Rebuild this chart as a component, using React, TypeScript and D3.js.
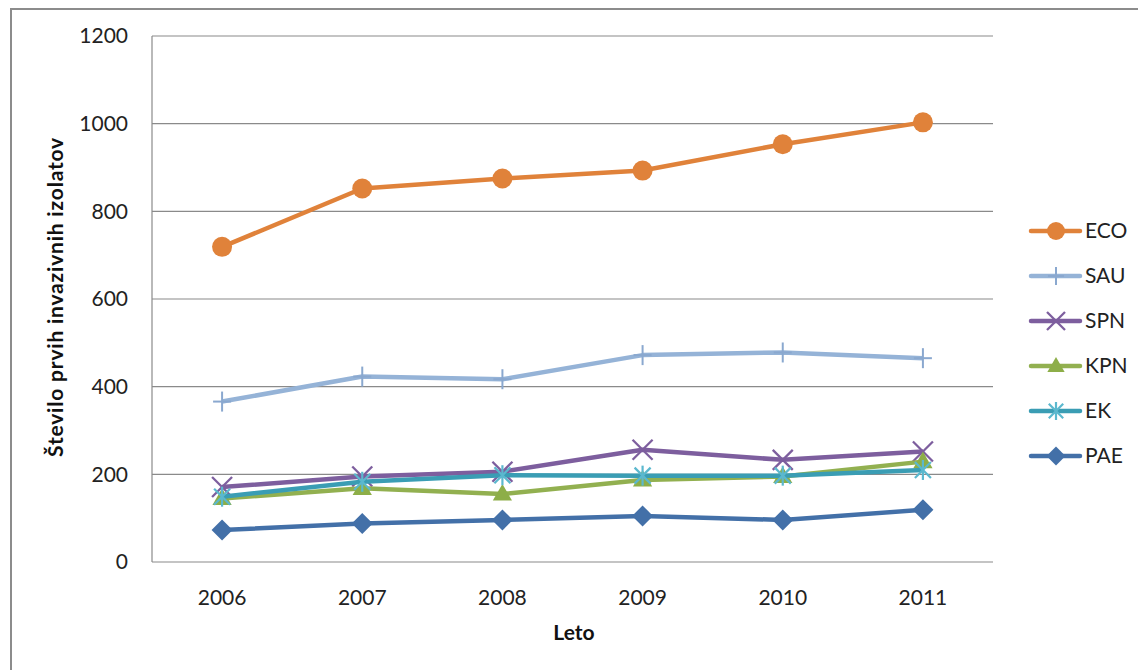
import React from "react";
import * as d3 from "d3";

const years = ["2006", "2007", "2008", "2009", "2010", "2011"];
const yTicks = [0, 200, 400, 600, 800, 1000, 1200];
const seriesNames = ["ECO", "SAU", "SPN", "KPN", "EK", "PAE"];
const eco = [719, 852, 875, 893, 953, 1003];
const sau = [366, 423, 417, 472, 478, 465];
const spn = [171, 195, 206, 256, 233, 252];
const kpn = [145, 168, 155, 187, 195, 229];
const ek = [149, 183, 198, 197, 197, 210];
const pae = [73, 88, 96, 105, 96, 119];
const seriesValues = [eco, sau, spn, kpn, ek, pae];
const colors = ["#E0823A", "#95B3D7", "#7D5E9E", "#92B050", "#3A9DB4", "#4370A8"];
const markerColors = ["#E0823A", "#8AA8CF", "#7D5E9E", "#8DAE48", "#5BB8CE", "#4370A8"];
const markerTypes = ["circle", "plus", "x", "triangle", "star", "diamond"];

const W = 1138, H = 670;
const plot = { left: 152, right: 993, top: 36, bottom: 562 };
const font = "Lato, 'Open Sans', 'DejaVu Sans', sans-serif";
const fs = 21;

function Marker({ type, x, y, color, s = 1 }: { type: string; x: number; y: number; color: string; s?: number }) {
  switch (type) {
    case "circle":
      return <circle cx={x} cy={y} r={10 * s} fill={color} />;
    case "plus":
      return (
        <g stroke={color} strokeWidth={2}>
          <line x1={x} x2={x} y1={y - 10 * s} y2={y + 10 * s} />
          <line x1={x - 9 * s} x2={x + 9 * s} y1={y} y2={y} />
        </g>
      );
    case "x":
      return (
        <g stroke={color} strokeWidth={2.3}>
          <line x1={x - 10 * s} x2={x + 10 * s} y1={y - 10 * s} y2={y + 10 * s} />
          <line x1={x - 10 * s} x2={x + 10 * s} y1={y + 10 * s} y2={y - 10 * s} />
        </g>
      );
    case "triangle": {
      const p = d3.symbol().type(d3.symbolTriangle).size(160 * s * s)();
      return <path d={p || ""} transform={`translate(${x},${y + 1})`} fill={color} />;
    }
    case "star":
      return (
        <g stroke={color} strokeWidth={2.2}>
          <line x1={x - 8 * s} x2={x + 8 * s} y1={y - 8 * s} y2={y + 8 * s} />
          <line x1={x - 8 * s} x2={x + 8 * s} y1={y + 8 * s} y2={y - 8 * s} />
          <line x1={x} x2={x} y1={y - 10 * s} y2={y + 10 * s} />
        </g>
      );
    case "diamond": {
      const r = 10.5 * s;
      return <path d={`M${x},${y - r}L${x + r},${y}L${x},${y + r}L${x - r},${y}Z`} fill={color} />;
    }
  }
  return null;
}

export default function App() {
  const x = d3.scaleBand<string>().domain(years).range([plot.left, plot.right]);
  const y = d3.scaleLinear().domain([0, 1200]).range([plot.bottom, plot.top]);
  const cx = (yr: string) => (x(yr) || 0) + x.bandwidth() / 2;
  const line = d3
    .line<number>()
    .x((_, i) => cx(years[i]))
    .y((d) => y(d));

  return (
    <svg width={W} height={H} style={{ position: "fixed", left: 0, top: 0, background: "#fff" }} fontFamily={font}>
      <rect x={0} y={0} width={W} height={H} fill="#fff" />
      <path d={`M11,${H} L11,9 L${W},9`} fill="none" stroke="#8c8c8c" strokeWidth={2} />
      {yTicks.map((t) => (
        <line key={t} x1={plot.left} x2={plot.right} y1={y(t)} y2={y(t)} stroke="#8a8a8a" strokeWidth={1.2} />
      ))}
      <line x1={plot.left} x2={plot.left} y1={plot.top} y2={plot.bottom} stroke="#8a8a8a" strokeWidth={1.2} />
      {yTicks.map((t) => (
        <text key={t} x={128} y={y(t)} dy="0.35em" textAnchor="end" fontSize={fs} fill="#222">
          {t}
        </text>
      ))}
      {years.map((yr) => (
        <text key={yr} x={cx(yr)} y={598} dy="0.35em" textAnchor="middle" fontSize={fs} fill="#222">
          {yr}
        </text>
      ))}
      <text x={574} y={633} dy="0.35em" textAnchor="middle" fontSize={fs} fontWeight="bold" fill="#111">
        Leto
      </text>
      <text
        transform={`translate(56,297) rotate(-90)`}
        dy="0.35em"
        textAnchor="middle"
        fontSize={fs}
        fontWeight="bold"
        letterSpacing={0.8}
        fill="#111"
      >
        Število prvih invazivnih izolatov
      </text>
      {seriesValues.map((vals, si) => (
        <g key={seriesNames[si]}>
          <path d={line(vals) || ""} fill="none" stroke={colors[si]} strokeWidth={4.5} strokeLinejoin="round" />
          {vals.map((v, i) => (
            <Marker key={i} type={markerTypes[si]} x={cx(years[i])} y={y(v)} color={markerColors[si]} />
          ))}
        </g>
      ))}
      {seriesNames.map((n, i) => {
        const ly = 231 + i * 45;
        return (
          <g key={n}>
            <line x1={1031} x2={1080} y1={ly} y2={ly} stroke={colors[i]} strokeWidth={4.5} strokeLinecap="round" />
            <Marker type={markerTypes[i]} x={1056} y={ly} color={markerColors[i]} s={0.9} />
            <text x={1085} y={ly} dy="0.35em" fontSize={fs} fill="#222">
              {n}
            </text>
          </g>
        );
      })}
    </svg>
  );
}
